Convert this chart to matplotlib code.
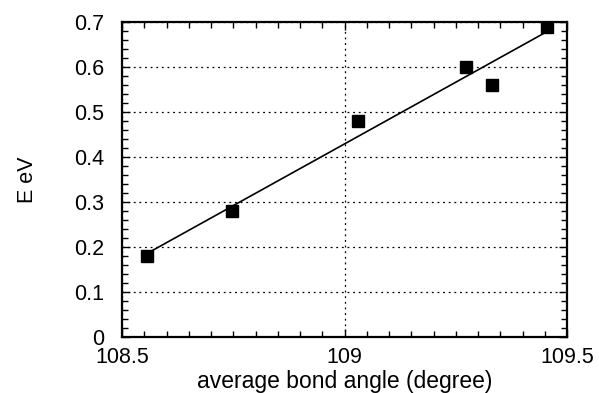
import matplotlib
matplotlib.use("Agg")
import matplotlib.pyplot as plt
import numpy as np
from matplotlib.ticker import MultipleLocator

plt.rcParams['font.family'] = ['Liberation Sans', 'DejaVu Sans']

angle = [108.556, 108.747, 109.03, 109.273, 109.332, 109.455]
energy = [0.18, 0.28, 0.48, 0.60, 0.56, 0.69]
x_ticks = [108.5, 109, 109.5]
x_tick_labels = ["108.5", "109", "109.5"]
y_ticks = [0, 0.1, 0.2, 0.3, 0.4, 0.5, 0.6, 0.7]
y_tick_labels = ["0", "0.1", "0.2", "0.3", "0.4", "0.5", "0.6", "0.7"]

fig = plt.figure(figsize=(5.99, 3.93), dpi=100)
ax = fig.add_axes([0.2037, 0.1425, 0.7429, 0.8015])

slope, intercept = np.polyfit(angle, energy, 1)
fx = np.array([min(angle), max(angle)])
ax.plot(fx, slope * fx + intercept, color='black', lw=1.2)
ax.plot(angle, energy, 'ks', ms=8.5)

ax.set_xlim(108.5, 109.5)
ax.set_ylim(0, 0.7)
ax.set_xticks(x_ticks)
ax.set_xticklabels(x_tick_labels)
ax.set_yticks(y_ticks)
ax.set_yticklabels(y_tick_labels)
ax.xaxis.set_minor_locator(MultipleLocator(0.05))
ax.yaxis.set_minor_locator(MultipleLocator(0.02))
ax.tick_params(which='both', direction='in', top=True, right=True, labelsize=15.5, width=1.0)
ax.tick_params(which='major', length=6)
ax.tick_params(which='minor', length=4)
ax.tick_params(axis='x', pad=7)
ax.tick_params(axis='y', pad=13)
ax.grid(True, which='major', linestyle=(0, (1.5, 3)), color='black', lw=0.9)
for s in ax.spines.values():
    s.set_linewidth(1.6)

ax.set_xlabel('average bond angle (degree)', fontsize=16.5, labelpad=2)
ax.set_ylabel('E eV', fontsize=15.5, labelpad=26)

fig.savefig('out.png', dpi=100)
